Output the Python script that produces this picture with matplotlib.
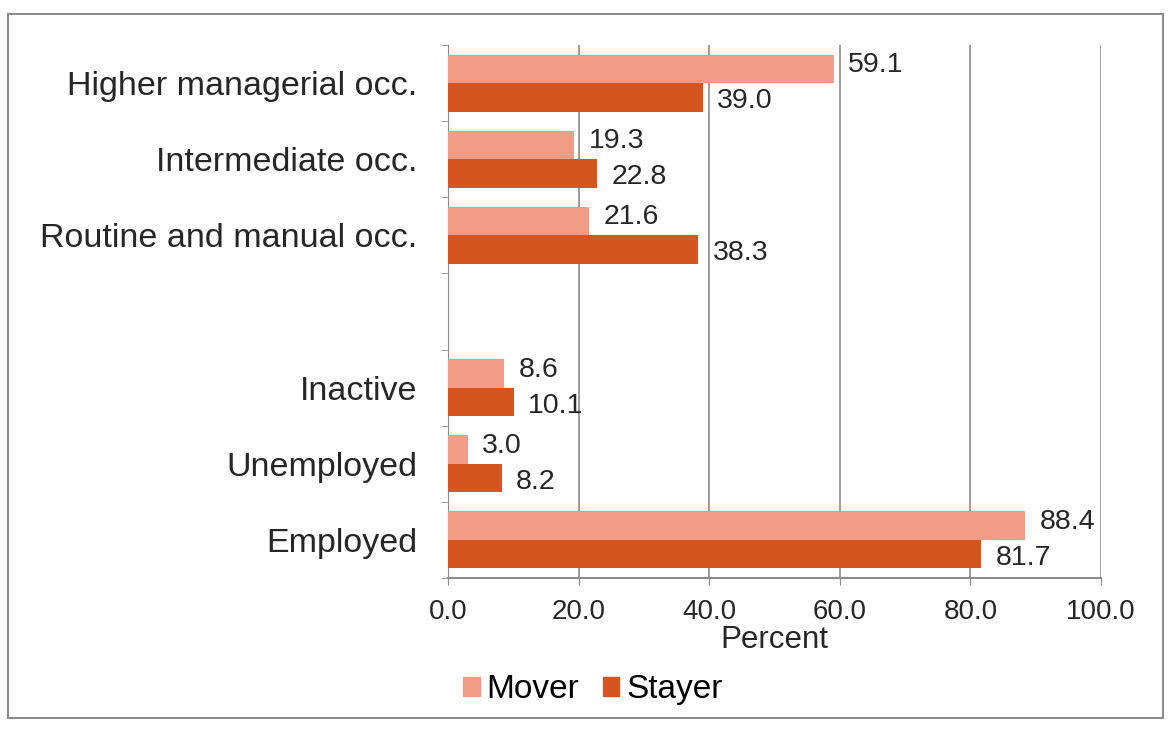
import numpy as np
import matplotlib
matplotlib.use("Agg")
import matplotlib.pyplot as plt
from matplotlib.patches import Rectangle

# data, bottom to top (empty slot between groups)
categories = ["Employed", "Unemployed", "Inactive", "",
              "Routine and manual occ.", "Intermediate occ.", "Higher managerial occ."]
mover = [88.4, 3.0, 8.6, None, 21.6, 19.3, 59.1]
stayer = [81.7, 8.2, 10.1, None, 38.3, 22.8, 39.0]
xticks = [0, 20, 40, 60, 80, 100]

mover_color = "#F09C86"
stayer_color = "#D6541F"

plt.rcParams['font.family'] = ['Liberation Sans', 'DejaVu Sans']

fig = plt.figure(figsize=(11.74, 7.32), dpi=100)
ax = fig.add_axes([0.3816, 0.2104, 0.5562, 0.7281])

# outer frame
fig.patches.append(Rectangle((8 / 1174, 1 - 718 / 732), 1155 / 1174, 704 / 732,
                             transform=fig.transFigure, fill=False,
                             edgecolor="#8c8c8c", linewidth=1.5))

h = 0.375
pos = np.arange(len(categories))
for i in range(len(categories)):
    if mover[i] is None:
        continue
    ax.barh(pos[i] + h / 2, mover[i], height=h, color=mover_color, zorder=3)
    ax.barh(pos[i] - h / 2, stayer[i], height=h, color=stayer_color, zorder=3)
    ax.text(mover[i] + 2.2, pos[i] + h / 2 + 0.05, "%.1f" % mover[i],
            va="center", ha="left", fontsize=20.5, color="#262626")
    ax.text(stayer[i] + 2.2, pos[i] - h / 2 - 0.05, "%.1f" % stayer[i],
            va="center", ha="left", fontsize=20.5, color="#262626")

ax.set_xlim(0, 100)
ax.set_ylim(-0.5, len(categories) - 0.5)
ax.set_xticks(xticks)
ax.set_xticklabels(["%.1f" % v for v in xticks], fontsize=20, color="#262626")
ax.set_yticks(pos)
ax.set_yticklabels(categories, fontsize=24.5, color="#262626")
ax.set_yticks(np.arange(-0.5, len(categories)), minor=True)
ax.tick_params(axis="y", which="major", length=0, pad=22)
ax.tick_params(axis="y", which="minor", length=5, color="#8c8c8c")
ax.tick_params(axis="x", length=5, color="#8c8c8c", pad=10)

ax.grid(axis="x", color="#8c8c8c", linewidth=1.2, zorder=0)
for s in ["top", "right"]:
    ax.spines[s].set_visible(False)
ax.spines["left"].set_color("#8c8c8c")
ax.spines["bottom"].set_color("#8c8c8c")
ax.spines["bottom"].set_linewidth(1.5)

ax.set_xlabel("Percent", fontsize=22.5, color="#262626", labelpad=0)

handles = [Rectangle((0, 0), 1, 1, color=mover_color),
           Rectangle((0, 0), 1, 1, color=stayer_color)]
fig.legend(handles, ["Mover", "Stayer"], loc="center", bbox_to_anchor=(0.505, 0.058),
           ncol=2, frameon=False, fontsize=24, handlelength=0.5, handleheight=0.5,
           handletextpad=0.2, columnspacing=0.7)

fig.savefig("out.png", dpi=100, facecolor="white")
